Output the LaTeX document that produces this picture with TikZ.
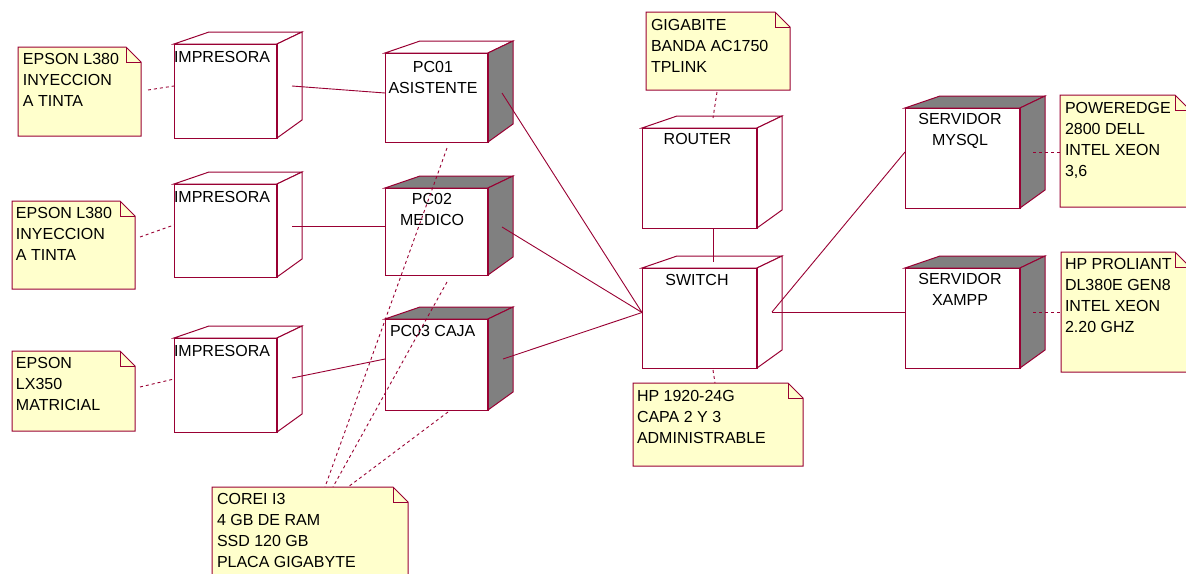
\documentclass[tikz,border=0pt]{standalone}
\usepackage{fontspec}
\setmainfont{Liberation Sans}
\definecolor{rose}{RGB}{153,0,51}
\definecolor{notefill}{RGB}{255,255,204}
\definecolor{sidegrey}{RGB}{128,128,128}
\tikzset{
  face/.style={draw=rose, line width=1pt, line join=miter},
  edge/.style={draw=rose, line width=0.9pt},
  dep/.style={draw=rose, line width=0.9pt, dash pattern=on 3pt off 3pt},
  lbl/.style={font=\fontsize{16}{20.8}\selectfont, inner sep=0pt, outer sep=0pt, text=black},
}
% #1 name, #2 x1, #3 y1, #4 width, #5 height, #6 top fill, #7 side fill
\newcommand{\udnode}[7]{%
  \filldraw[face, fill=#6] (#2,#3) -- (#2+35,#3-12) -- (#2+#4+25,#3-12) -- (#2+#4,#3) -- cycle;
  \filldraw[face, fill=#7] (#2+#4,#3) -- (#2+#4+25,#3-12) -- (#2+#4+25,#3+#5-18) -- (#2+#4,#3+#5) -- cycle;
  \node[face, fill=white, minimum width=#4pt, minimum height=#5pt, anchor=north west, inner sep=0pt, outer sep=0pt] (#1) at (#2,#3) {};
  \draw[rose, line width=2pt] (#1.north east) -- (#1.south east);
}
% #1 name, #2 x1, #3 y1, #4 x2, #5 y2
\newcommand{\udnote}[5]{%
  \filldraw[face, fill=notefill] (#2,#3) -- (#4-15,#3) -- (#4,#3+15) -- (#4,#5) -- (#2,#5) -- cycle;
  \draw[face] (#4-15,#3) -- (#4-15,#3+15) -- (#4,#3+15);
  \coordinate (#1) at (#2,#3);
}
\begin{document}
\begin{tikzpicture}[x=1pt,y=-1pt]
\useasboundingbox (0,0) rectangle (1186,573);
\clip (0,0) rectangle (1186,573);
\fill[white] (0,0) rectangle (1186,573);

% ---------- nodes ----------
\udnode{imp1}{174}{44}{103}{94}{white}{white}
\udnode{imp2}{174}{184}{103}{93}{white}{white}
\udnode{imp3}{174}{338}{103}{94}{white}{white}
\udnode{pc1}{385}{53}{103}{89}{white}{sidegrey}
\udnode{pc2}{385}{188}{103}{87}{sidegrey}{sidegrey}
\udnode{pc3}{385}{319}{103}{91}{sidegrey}{sidegrey}
\udnode{router}{642}{128}{115}{100}{white}{white}
\udnode{switch}{642}{268}{115}{100}{white}{white}
\udnode{mysql}{905}{108}{115}{100}{sidegrey}{sidegrey}
\udnode{xampp}{905}{268}{115}{100}{sidegrey}{sidegrey}

\node[lbl, anchor=north west] (imp1t) at (174,51.5) {IMPRESORA};
\node[lbl, anchor=north west] (imp2t) at (174,191.5) {IMPRESORA};
\node[lbl, anchor=north west] (imp3t) at (174,345) {IMPRESORA};
\node[lbl, align=center, anchor=north] (pc1t) at (433,61.5) {PC01\\ASISTENTE};
\node[lbl, align=center, anchor=north] (pc2t) at (432,193.5) {PC02\\MEDICO};
\node[lbl, anchor=north west] (pc3t) at (390,325.5) {PC03 CAJA};
\node[lbl, anchor=north] (routert) at (697.5,133.5) {ROUTER};
\node[lbl, anchor=north] (switcht) at (697,274.5) {SWITCH};
\node[lbl, align=center, anchor=north] (mysqlt) at (960,113.5) {SERVIDOR\\MYSQL};
\node[lbl, align=center, anchor=north] (xamppt) at (960,273.5) {SERVIDOR\\XAMPP};

% ---------- notes ----------
\udnote{n1}{18}{47}{141}{136}
\udnote{n2}{12}{201}{135}{289}
\udnote{n3}{12}{351}{135}{431}
\udnote{ngig}{646}{12}{790}{90}
\udnote{nhp}{633}{383}{803}{466}
\udnote{npow}{1060}{95}{1190}{207}
\udnote{nhpro}{1061}{252}{1190}{372}
\udnote{ncore}{212}{487}{408}{600}

\node[lbl, align=left, anchor=north west] (n1t) at (23,53.5) {EPSON L380\\INYECCION\\A TINTA};
\node[lbl, align=left, anchor=north west] (n2t) at (16,207.5) {EPSON L380\\INYECCION\\A TINTA};
\node[lbl, align=left, anchor=north west] (n3t) at (16,357.5) {EPSON\\LX350\\MATRICIAL};
\node[lbl, align=left, anchor=north west] (ngigt) at (651,19.5) {GIGABITE\\BANDA AC1750\\TPLINK};
\node[lbl, align=left, anchor=north west] (nhpt) at (637,390.5) {HP 1920-24G\\CAPA 2 Y 3\\ADMINISTRABLE};
\node[lbl, align=left, anchor=north west] (npowt) at (1065,102.5) {POWEREDGE\\2800 DELL\\INTEL XEON\\3,6};
\node[lbl, align=left, anchor=north west] (nhprot) at (1065,258.5) {HP PROLIANT\\DL380E GEN8\\INTEL XEON\\2.20 GHZ};
\node[lbl, align=left, anchor=north west] (ncoret) at (217,493.5) {COREI I3\\4 GB DE RAM\\SSD 120 GB\\PLACA GIGABYTE};

% ---------- connector end points ----------
\coordinate (imp1r) at (292,86);   \coordinate (pc1l) at (385,93);
\coordinate (imp2r) at (292,226);  \coordinate (pc2l) at (385,226);
\coordinate (imp3r) at (292,378);  \coordinate (pc3l) at (385,359);
\coordinate (pc1r) at (502,93);
\coordinate (pc2r) at (502,227);
\coordinate (pc3r) at (503,359);
\coordinate (swl) at (642,312.5);
\coordinate (routerb) at (713,228);
\coordinate (swt) at (713,262);
\coordinate (swr) at (772,312);
\coordinate (mysqll) at (905,152);
\coordinate (xamppl) at (905,312);
\coordinate (n1r) at (148,90);    \coordinate (imp1l) at (174,86);
\coordinate (n2r) at (140,237);   \coordinate (imp2l) at (174,225);
\coordinate (n3r) at (140,387);   \coordinate (imp3l) at (174,379);
\coordinate (ngigb) at (717,92);  \coordinate (routert) at (713,118);
\coordinate (swb) at (713,370);   \coordinate (nhpt0) at (715,383);
\coordinate (mysqlr) at (1033,152); \coordinate (npowl) at (1060,152);
\coordinate (xamppr) at (1033,312); \coordinate (nhprol) at (1061,312);
\coordinate (pc1b) at (447,148);  \coordinate (coreA) at (325,487);
\coordinate (pc2b) at (447,282);  \coordinate (coreB) at (333,487);
\coordinate (pc3b) at (448,412);  \coordinate (coreC) at (348,487);

% ---------- solid connectors ----------
\draw[edge] (imp1r) -- (pc1l);
\draw[edge] (imp2r) -- (pc2l);
\draw[edge] (imp3r) -- (pc3l);
\draw[edge] (pc1r) -- (swl);
\draw[edge] (pc2r) -- (swl);
\draw[edge] (pc3r) -- (swl);
\draw[edge] (routerb) -- (swt);
\draw[edge] (swr) -- (mysqll);
\draw[edge] (swr) -- (xamppl);

% ---------- dashed (note) connectors ----------
\draw[dep] (n1r) -- (imp1l);
\draw[dep] (n2r) -- (imp2l);
\draw[dep] (n3r) -- (imp3l);
\draw[dep] (ngigb) -- (routert);
\draw[dep] (swb) -- (nhpt0);
\draw[dep] (mysqlr) -- (npowl);
\draw[dep] (xamppr) -- (nhprol);
\draw[dep] (pc1b) -- (coreA);
\draw[dep] (pc2b) -- (coreB);
\draw[dep] (pc3b) -- (coreC);
\end{tikzpicture}
\end{document}
